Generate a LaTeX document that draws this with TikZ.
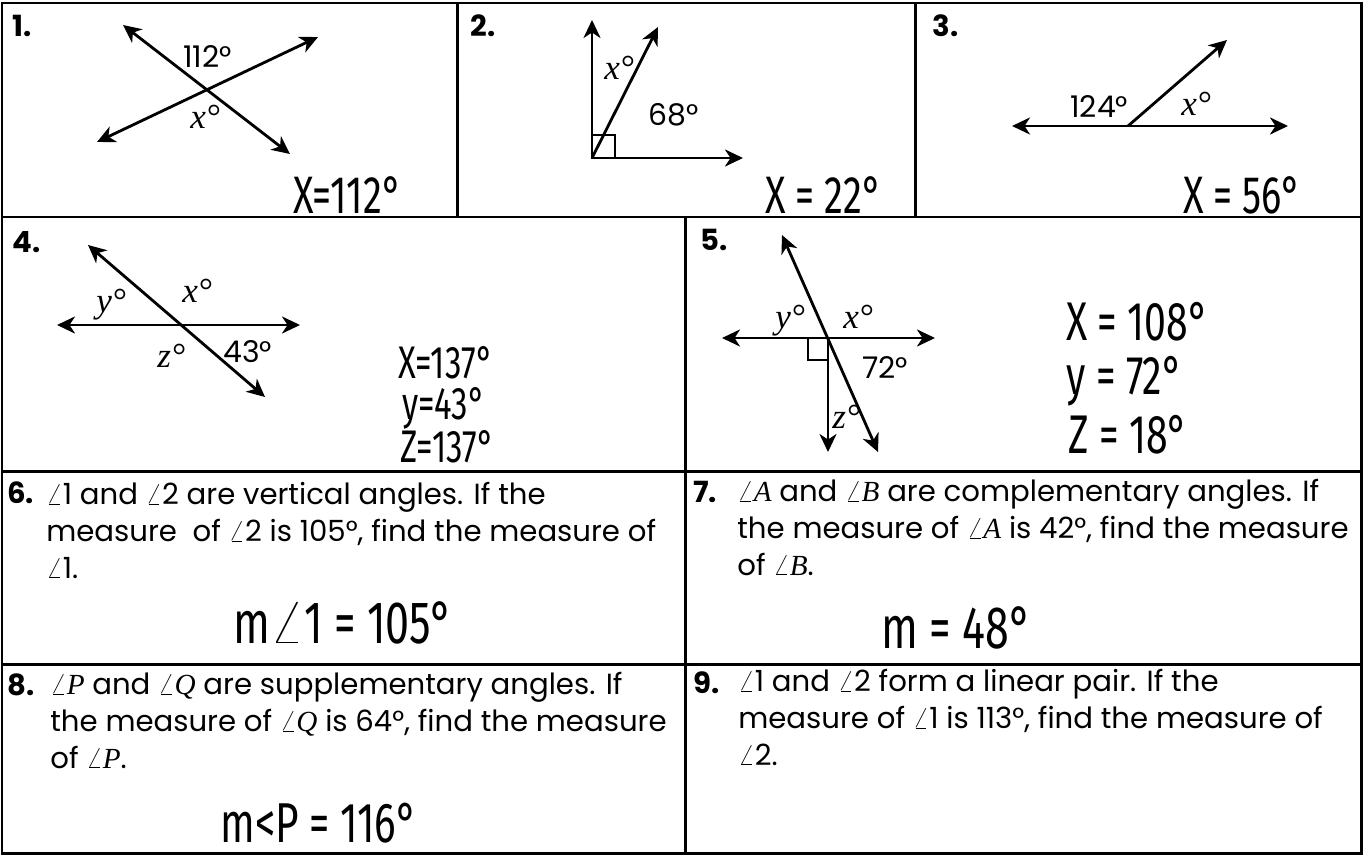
\documentclass[tikz,border=0pt]{standalone}
\usepackage{fontspec}
\setmainfont{Poppins}
\newfontfamily\varfont{Liberation Serif}
\newfontfamily\handfont{Fira Sans}[FakeStretch=0.72]
\usetikzlibrary{arrows.meta}
\newcommand{\vlbl}[1]{{\varfont\itshape #1°}}
\newcommand{\vang}[1]{$\angle${\varfont\itshape #1}}

\begin{document}
\begin{tikzpicture}[x=0.02cm, y=-0.02cm,
  frame/.style={line width=1.7pt},
  ray/.style={line width=1.6pt, -{Stealth[length=3.6mm, width=3.4mm, inset=1.1mm]}},
  line/.style={line width=1.6pt, {Stealth[length=3.6mm, width=3.4mm, inset=1.1mm]}-{Stealth[length=3.6mm, width=3.4mm, inset=1.1mm]}},
  corner/.style={line width=0.8pt},
  qnum/.style={anchor=base west, inner sep=0pt, font=\fontsize{16.6}{16.6}\selectfont\bfseries},
  lbl/.style={anchor=base west, inner sep=0pt, font=\fontsize{17}{17}\selectfont},
  var/.style={anchor=base west, inner sep=0pt, font=\fontsize{20}{20}\selectfont},
  prob/.style={anchor=base west, inner sep=0pt, align=left, font=\fontsize{16.6}{21}\selectfont},
  hand/.style={anchor=base west, inner sep=0pt, font=\handfont\fontsize{#1}{#1}\selectfont},
  hand/.default=34
]
\useasboundingbox (0,0) rectangle (1364,855);

% grid of the worksheet
\draw[frame] (2,3) rectangle (1361,853);
\draw[frame] (2,217) -- (1361,217);
\draw[frame] (2,471) -- (1361,471);
\draw[frame] (2,664) -- (1361,664);
\draw[frame] (457,3) -- (457,217);
\draw[frame] (915,3) -- (915,217);
\draw[frame] (685,217) -- (685,853);

% problem numbers
\node[qnum] (n1) at (12,37) {1.};
\node[qnum] (n2) at (470,37) {2.};
\node[qnum] (n3) at (932,37) {3.};
\node[qnum] (n4) at (12,252) {4.};
\node[qnum] (n5) at (700,250) {5.};
\node[qnum] (n6) at (7,503) {6.};
\node[qnum] (n7) at (693,502) {7.};
\node[qnum] (n8) at (7,695) {8.};
\node[qnum] (n9) at (693,693) {9.};

% 1: vertical angles
\coordinate (a1) at (123,25);
\coordinate (b1) at (290,154);
\coordinate (c1) at (97,142);
\coordinate (d1) at (318,37);
\draw[line] (a1) -- (b1);
\draw[line] (c1) -- (d1);
\node[lbl] (deg1) at (183,68) {112°};
\node[var] (x1) at (190,128) {\vlbl{x}};
\node[hand=30] (ans1) at (293,213) {X=112°};

% 2: right angle split
\coordinate (o2) at (592,158);
\coordinate (up2) at (592,20);
\coordinate (rt2) at (743,158);
\coordinate (ob2) at (658,27);
\draw[ray] (o2) -- (up2);
\draw[ray] (o2) -- (rt2);
\draw[ray] (o2) -- (ob2);
\draw[corner] (o2) rectangle +(23,-23);
\node[var] (x2) at (604,80) {\vlbl{x}};
\node[lbl] (deg2) at (648,125) {68°};
\node[hand=30] (ans2) at (765,213) {X = 22°};

% 3: linear pair
\coordinate (l3) at (1012,126);
\coordinate (r3) at (1288,126);
\coordinate (o3) at (1128,126);
\coordinate (ob3) at (1227,40);
\draw[line] (l3) -- (r3);
\draw[ray] (o3) -- (ob3);
\node[lbl] (deg3) at (1070,117) {124°};
\node[var] (x3) at (1181,115) {\vlbl{x}};
\node[hand=30] (ans3) at (1183,213) {X = 56°};

% 4: crossing lines
\coordinate (l4) at (57,325);
\coordinate (r4) at (300,325);
\coordinate (t4) at (88,245);
\coordinate (b4) at (265,397);
\draw[line] (l4) -- (r4);
\draw[line] (t4) -- (b4);
\node[var] (y4) at (96,312) {\vlbl{y}};
\node[var] (x4) at (182,302) {\vlbl{x}};
\node[var] (z4) at (157,367) {\vlbl{z}};
\node[lbl] (deg4) at (223,362) {43°};
\node[hand=26] (ansx4) at (398,378) {X=137°};
\node[hand=26] (ansy4) at (402,419) {y=43°};
\node[hand=26] (ansz4) at (400,462) {Z=137°};

% 5: crossing lines with perpendicular ray
\coordinate (l5) at (722,338);
\coordinate (r5) at (935,338);
\coordinate (t5) at (782,235);
\coordinate (b5) at (878,452);
\coordinate (o5) at (828,338);
\coordinate (dn5) at (828,452);
\draw[line] (l5) -- (r5);
\draw[line] (t5) -- (b5);
\draw[ray] (o5) -- (dn5);
\draw[corner] (o5) rectangle +(-20,22);
\node[var] (y5) at (775,328) {\vlbl{y}};
\node[var] (x5) at (843,328) {\vlbl{x}};
\node[lbl] (deg5) at (862,378) {72°};
\node[var] (z5) at (832,428) {\vlbl{z}};
\node[hand=31] (ansx5) at (1066,340) {X = 108°};
\node[hand=31] (ansy5) at (1066,394) {y = 72°};
\node[hand=31] (ansz5) at (1068,453) {Z = 18°};

% 6 to 9: word problems (anchored on the last line)
\node[prob] (p6) at (46,578) {$\angle$1 and $\angle$2 are vertical angles.  If the\\
  measure\ \ of $\angle$2 is 105°, find the measure of\\ $\angle$1.};
\node[hand] (ans6) at (233,643) {m$\angle$1 = 105°};
\node[prob] (p7) at (737,575) {\vang{A} and \vang{B} are complementary angles.  If\\
  the measure of \vang{A} is 42°, find the measure\\ of \vang{B}.};
\node[hand] (ans7) at (881,648) {m = 48°};
\node[prob] (p8) at (50,768) {\vang{P} and \vang{Q} are supplementary angles.  If\\
  the measure of \vang{Q} is 64°, find the measure\\ of \vang{P}.};
\node[hand=32] (ans8) at (220,842) {m<P = 116°};
\node[prob] (p9) at (738,765) {$\angle$1 and $\angle$2 form a linear pair.  If the\\
  measure of $\angle$1 is 113°, find the measure of\\ $\angle$2.};
\end{tikzpicture}
\end{document}
